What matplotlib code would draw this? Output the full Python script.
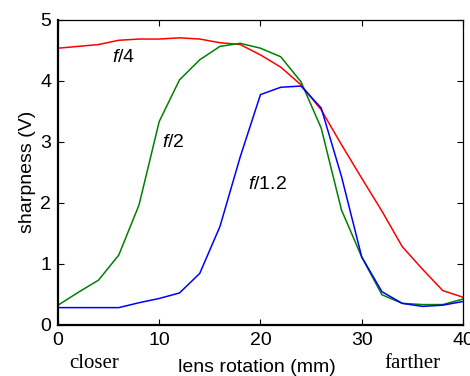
import matplotlib
matplotlib.use("Agg")
import matplotlib.pyplot as plt

plt.rcParams['font.family'] = ['Liberation Sans', 'DejaVu Sans']
plt.rcParams['mathtext.fontset'] = 'custom'
plt.rcParams['mathtext.it'] = 'Liberation Sans:italic'

# lens rotation positions (mm)
rotation = [0, 2, 4, 6, 8, 10, 12, 14, 16, 18, 20,
            22, 24, 26, 28, 30, 32, 34, 36, 38, 40]

# sharpness (V) for each aperture
f4 = [4.53, 4.56, 4.59, 4.66, 4.68, 4.68, 4.70, 4.68, 4.62, 4.59, 4.42,
      4.22, 3.93, 3.52, 2.95, 2.40, 1.86, 1.28, 0.91, 0.56, 0.45]
f2 = [0.32, 0.53, 0.73, 1.14, 1.96, 3.33, 4.01, 4.34, 4.56, 4.61, 4.53,
      4.39, 3.98, 3.22, 1.88, 1.11, 0.49, 0.35, 0.33, 0.33, 0.42]
f12 = [0.28, 0.28, 0.28, 0.28, 0.36, 0.43, 0.52, 0.84, 1.61, 2.75, 3.77,
       3.89, 3.91, 3.55, 2.43, 1.11, 0.54, 0.35, 0.30, 0.32, 0.38]

fig = plt.figure(figsize=(4.7, 3.76), dpi=100)
ax = fig.add_axes([0.1234, 0.1364, 0.8616, 0.8117])

ax.plot(rotation, f4, color='#ff0000', lw=1.1)
ax.plot(rotation, f2, color='#008000', lw=1.1)
ax.plot(rotation, f12, color='#0000ff', lw=1.1)

ax.set_xlim(0, 40)
ax.set_ylim(0, 5)
ax.set_xticks([0, 10, 20, 30, 40])
ax.set_yticks([0, 1, 2, 3, 4, 5])
ax.tick_params(direction='in', length=4, width=0.8, labelsize=14,
               top=True, right=True, pad=5)

for side in ['left', 'bottom']:
    ax.spines[side].set_linewidth(1.6)
for side in ['top', 'right']:
    ax.spines[side].set_linewidth(0.9)

# curve labels
ax.text(6.5, 4.37, r'$f$/4', fontsize=14, ha='center', va='center')
ax.text(11.4, 2.99, r'$f$/2', fontsize=14, ha='center', va='center')
ax.text(20.7, 2.29, r'$f$/1.2', fontsize=14, ha='center', va='center')

ax.set_ylabel('sharpness (V)', fontsize=14, labelpad=3)
fig.text(257 / 470, 1 - 367 / 376, 'lens rotation (mm)', fontsize=14,
         ha='center', va='center')
fig.text(94 / 470, 1 - 363 / 376, 'closer', fontsize=15,
         family='Liberation Serif', ha='center', va='center')
fig.text(412 / 470, 1 - 363 / 376, 'farther', fontsize=15,
         family='Liberation Serif', ha='center', va='center')

fig.savefig("out.png", dpi=100)
